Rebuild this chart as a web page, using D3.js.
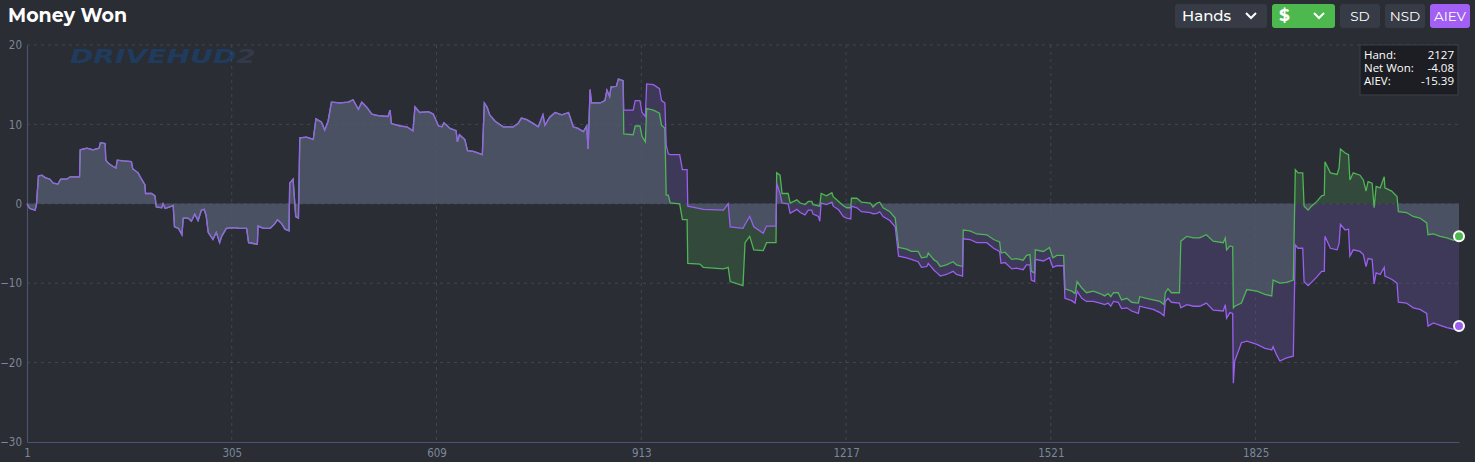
<!DOCTYPE html>
<html>
<head>
<meta charset="utf-8">
<script src="https://cdn.jsdelivr.net/npm/d3@7"></script>
<style>
  html, body { margin: 0; padding: 0; background: #2a2d33; }
  svg { display: block; }
  .tick text { font-stretch: condensed; }
</style>
</head>
<body>
<svg id="chart" width="1475" height="462"></svg>
<script>
const hands = [1,5,13,15,18,23,28,35,40,47,51,60,65,79,80,90,99,108,110,117,118,122,127,133,135,144,156,158,166,171,176,177,186,191,193,201,203,206,213,218,220,226,231,233,240,245,250,255,260,264,267,270,277,282,287,290,297,307,317,327,330,337,343,344,352,362,369,373,379,384,390,391,396,400,404,406,416,426,430,438,443,448,453,466,478,485,493,498,505,513,522,537,540,542,555,565,574,577,584,597,604,612,617,620,629,638,640,643,651,655,664,674,677,680,684,688,696,708,723,730,735,743,753,760,767,770,777,785,795,805,812,819,827,832,834,837,839,852,859,862,866,868,876,879,886,
  887,901,904,911,914,919,921,931,940,943,948,950,953,956,970,974,981,982,1000,1005,1035,1042,1045,1064,1067,1074,1080,1094,1099,1113,1114,1119,1122,1131,1134,1144,1149,1156,1161,1166,1168,1176,1178,1180,1188,1196,1198,1206,1213,1218,1224,1225,1233,1240,1253,1257,1263,1267,1272,1282,1290,1295,1307,1314,1324,1329,1337,1339,1348,1352,1357,1366,1376,1381,1390,1391,1401,1411,1426,1436,1445,1447,1453,1463,1470,1480,1485,1490,1492,1497,1498,1510,1519,1524,1530,1540,1542,1552,1557,1560,1567,1574,1584,1594,1601,1606,1610,1614,1621,1626,1634,1641,1651,1653,1663,1673,1683,1689,1691,1695,1700,1712,1714,1723,1733,1742,1752,1762,1777,1780,1782,1787,1791,1792,1794,1804,1812,1827,1839,1849,1851,1856,1861,1871,1881,1884,1888,1895,1897,1903,1908,1916,1923,1927,1928,1936,1946,1949,1951,1958,1963,1965,1970,1980,1985,1989,1992,1998,2001,2004,2010,2016,2017,2027,2035,2037,2049,2059,2069,2079,2081,2089,2099,2109,2119,2127];

// up to hand 886 net won and AIEV are the same curve
const shared = [0,-0.6,-0.8,-0.1,3.5,3.6,3.3,3.1,2.6,2.5,3.1,3.1,3.4,3.4,6.8,7.0,6.8,7.0,7.7,7.6,5.5,5.1,4.8,4.5,5.5,5.4,5.3,4.4,3.9,3.1,2.4,1.3,1.3,1.0,-0.4,-0.5,0,-0.6,-0.4,-0.2,-2.9,-3.1,-3.9,-1.8,-1.8,-2.2,-1.3,-2.1,-0.8,-0.7,-1.5,-3.6,-4.5,-3.6,-4.9,-4.1,-3.1,-3.0,-3.1,-3.1,-4.9,-5.0,-5.1,-2.8,-3.1,-3.1,-2.5,-2.0,-2.5,-3.2,-3.4,2.6,3.1,-1.6,-1.8,8.3,8.4,8.1,10.7,10.3,9.3,10.4,12.8,12.7,12.8,13.1,11.9,12.8,12.2,11.3,11.1,11.0,11.8,10.1,9.8,9.7,9.2,12.2,11.5,11.6,11.3,9.8,9.7,10.2,9.5,9.2,7.8,8.7,8.1,6.7,6.6,6.3,6.2,12.7,12.2,11.2,10.4,9.7,9.7,10.1,10.8,10.6,10.1,9.7,11.2,9.9,10.9,11.5,11.2,11.5,9.7,9.5,9.1,9.8,6.9,14.4,12.7,12.7,13.0,14.3,13.5,14.7,14.8,15.7,15.5];

const netWonTail = [8.8,8.7,9.8,9.8,8.5,7.8,12.0,11.8,11.4,9.9,9.5,1.1,1.1,0.1,0,-2.0,-2.0,-7.5,-7.6,-8.0,-8.2,-8.0,-9.8,-10.3,-4.9,-4.1,-5.8,-5.9,-4.9,-4.9,3.9,3.6,1.3,1.3,0.1,0.5,0.1,-0.1,0.3,0.3,-0.1,-0.25,-0.3,1.3,1.0,1.4,0.9,0.3,-0.25,-0.5,-0.5,0.7,0.7,0.2,0.1,-0.4,0.1,0.2,-0.5,-1.0,-1.8,-5.5,-5.7,-6.0,-6.0,-6.8,-6.7,-6.2,-7.1,-7.3,-7.9,-7.7,-7.3,-7.7,-7.9,-3.3,-3.4,-3.8,-3.9,-4.5,-4.8,-6.2,-6.1,-7.0,-6.9,-7.1,-6.5,-6.4,-8.5,-8.7,-5.8,-6.0,-5.5,-6.8,-6.5,-6.5,-10.7,-11.0,-11.3,-9.8,-10.6,-11.2,-11.0,-11.3,-11.6,-11.3,-11.7,-11.2,-11.2,-12.1,-11.9,-12.4,-12.5,-11.7,-11.9,-12.1,-12.3,-12.7,-11.2,-10.7,-11.2,-11.2,-4.7,-4.1,-4.3,-4.3,-3.9,-4.7,-4.9,-4.3,-5.8,-5.3,-5.4,-13.1,-12.9,-12.5,-10.8,-11.0,-11.4,-11.6,-9.6,-9.8,-10.0,-9.9,-9.6,4.3,3.9,3.9,-0.3,-0.8,-0.3,0.3,1.0,1.1,5.3,3.9,3.7,4.5,6.9,6.4,6.2,3.0,3.9,3.6,3.0,1.6,2.8,2.6,-0.5,2.2,2.0,3.4,2.0,1.6,0.9,-1.0,-1.1,-1.6,-1.8,-2.4,-3.9,-3.8,-4.1,-4.3,-4.6,-4.08];

const aievTail = [11.8,11.8,13.0,13.0,11.5,11.0,15.1,15.0,14.5,13.0,12.7,7.4,6.3,6.2,6.2,4.3,4.3,-0.3,-0.6,-0.7,-0.8,0,-2.9,-3.1,-2.6,-1.6,-2.9,-3.7,-2.8,-2.8,2.6,1.3,0.1,0,-1.2,-0.7,-1.1,-1.4,-0.8,-0.8,-1.3,-1.6,-2.2,0.1,-0.1,0.2,-0.3,-0.75,-1.6,-1.8,-1.9,-0.3,-0.5,-1.0,-1.1,-1.25,-1.2,-1.0,-1.6,-2.1,-2.9,-6.6,-6.8,-7.0,-7.3,-8.0,-7.9,-7.5,-8.4,-8.7,-9.1,-8.9,-8.5,-8.9,-9.1,-4.4,-4.5,-4.9,-4.9,-5.6,-6.0,-7.5,-7.4,-8.2,-8.1,-8.3,-7.7,-7.7,-9.6,-9.8,-7.0,-7.2,-6.8,-8.0,-7.8,-7.8,-11.9,-12.2,-12.5,-11.0,-11.9,-12.3,-12.3,-12.5,-12.7,-12.5,-12.9,-12.3,-12.4,-13.2,-13.1,-13.5,-13.8,-12.9,-13.1,-13.3,-13.7,-14.1,-12.3,-11.9,-12.4,-12.5,-13.1,-12.7,-12.9,-12.9,-12.5,-13.4,-13.5,-12.7,-14.4,-13.7,-13.8,-22.6,-19.8,-17.5,-17.3,-17.7,-18.2,-18.4,-18.0,-19.0,-19.8,-19.4,-19.2,-5.2,-5.6,-5.6,-9.8,-10.3,-9.9,-9.2,-8.5,-8.5,-4.1,-5.6,-5.8,-5.0,-2.6,-3.3,-3.2,-6.6,-5.8,-6.0,-6.4,-7.9,-6.9,-7.0,-10.1,-8.7,-8.9,-8.0,-9.1,-9.5,-10.0,-12.4,-12.5,-13.1,-13.3,-13.8,-15.4,-15.0,-15.3,-15.6,-15.8,-15.39];

const netWon = shared.concat(netWonTail);
const aiev = shared.concat(aievTail);

const xTicks = [1, 305, 609, 913, 1217, 1521, 1825];
const yTicks = [20, 10, 0, -10, -20, -30];
const tooltipLabels = ["Hand:", "Net Won:", "AIEV:"];
const tooltipValues = ["2127", "-4.08", "-15.39"];
const buttons = ["Hands", "$", "SD", "NSD", "AIEV"];

const data = hands.map((h, i) => ({ hand: h, net: netWon[i], ev: aiev[i] }));

const svg = d3.select("#chart");
const W = 1475, H = 462;
const margin = { top: 45, right: 16, bottom: 20, left: 27 };

const x = d3.scaleLinear().domain([1, 2127]).range([margin.left, W - margin.right]);
const y = d3.scaleLinear().domain([-30, 20]).range([H - margin.bottom, margin.top]);

svg.append("rect").attr("width", W).attr("height", H).attr("fill", "#2a2d33");

// title
svg.append("text").attr("x", 8).attr("y", 22)
  .attr("font-family", "Montserrat, 'Open Sans', sans-serif").attr("font-weight", 700)
  .attr("font-size", 19).attr("fill", "#ffffff").text("Money Won");

// watermark
const wm = svg.append("text").attr("x", 70).attr("y", 63)
  .attr("font-family", "'DejaVu Sans', sans-serif").attr("font-weight", 700)
  .attr("font-style", "italic").attr("font-size", 19)
  .attr("textLength", 186).attr("lengthAdjust", "spacingAndGlyphs");
wm.append("tspan").attr("fill", "#1f3b5e").text("DRIVEHUD");
wm.append("tspan").attr("fill", "#323a4a").text("2");

// areas: green/purple where only one series reaches, grey where both overlap
const overlap = d => (d.net * d.ev > 0) ? (Math.abs(d.net) < Math.abs(d.ev) ? d.net : d.ev) : 0;
const area = f => d3.area().x(d => x(d.hand)).y0(y(0)).y1(d => y(f(d)));

svg.append("path").datum(data).attr("d", area(d => d.net)).attr("fill", "#33493b");
svg.append("path").datum(data).attr("d", area(d => d.ev)).attr("fill", "#3e3959");
svg.append("path").datum(data).attr("d", area(overlap)).attr("fill", "#4a5162");

// grid
const grid = svg.append("g").attr("stroke", "#555b66").attr("stroke-opacity", 0.55)
  .attr("stroke-dasharray", "3,4").attr("stroke-width", 1);
grid.selectAll(".gx").data(xTicks.slice(1)).join("line")
  .attr("x1", d => x(d)).attr("x2", d => x(d)).attr("y1", y(20)).attr("y2", y(-30));
grid.selectAll(".gy").data(yTicks.slice(0, -1)).join("line")
  .attr("x1", x(1)).attr("x2", x(2127)).attr("y1", d => y(d)).attr("y2", d => y(d));

// axes
const axisFont = "'DejaVu Sans', sans-serif";
const yAxis = svg.append("g").attr("transform", `translate(${x(1)},0)`)
  .call(d3.axisLeft(y).tickValues(yTicks).tickFormat(d3.format("d")).tickSize(0).tickPadding(5));
const xAxis = svg.append("g").attr("transform", `translate(0,${y(-30)})`)
  .call(d3.axisBottom(x).tickValues(xTicks).tickFormat(d3.format("d")).tickSize(0).tickPadding(7));
[xAxis, yAxis].forEach(a => {
  a.select(".domain").attr("stroke", "#4c5271").attr("stroke-width", 1.2);
  a.selectAll("text").attr("fill", "#7c879a").attr("font-size", 11.5).attr("font-family", axisFont);
});

// lines
const line = f => d3.line().x(d => x(d.hand)).y(d => y(f(d)));
svg.append("path").datum(data).attr("d", line(d => d.net))
  .attr("fill", "none").attr("stroke", "#4fb556").attr("stroke-width", 1.3);
svg.append("path").datum(data).attr("d", line(d => d.ev))
  .attr("fill", "none").attr("stroke", "#9a5ff0").attr("stroke-width", 1.3);

// end markers
const last = data[data.length - 1];
[[last.net, "#4cb84e"], [last.ev, "#9a5ff0"]].forEach(([v, c]) => {
  svg.append("circle").attr("cx", x(last.hand)).attr("cy", y(v)).attr("r", 5)
    .attr("fill", c).attr("stroke", "#ffffff").attr("stroke-width", 2);
});

// tooltip
const tip = svg.append("g").attr("transform", "translate(1360,45)");
tip.append("rect").attr("width", 98).attr("height", 50).attr("fill", "#1c1e23")
  .attr("stroke", "#3b3f47").attr("stroke-width", 1);
tooltipLabels.forEach((t, i) => {
  tip.append("text").attr("x", 4).attr("y", 14 + i * 13).attr("font-size", 11.5)
    .attr("font-family", "'Open Sans', sans-serif").attr("fill", "#ffffff").text(t);
  tip.append("text").attr("x", 94).attr("y", 14 + i * 13).attr("font-size", 11.5)
    .attr("text-anchor", "end").attr("font-family", "'Open Sans', sans-serif")
    .attr("fill", "#ffffff").text(tooltipValues[i]);
});

// header buttons
const btnSpec = [
  { x: 1175, w: 92, fill: "#363b45", chevron: true },
  { x: 1272, w: 63, fill: "#4cb84e", chevron: true },
  { x: 1340, w: 40, fill: "#363b45" },
  { x: 1385, w: 40, fill: "#363b45" },
  { x: 1430, w: 40, fill: "#a15ff4" }
];
buttons.forEach((label, i) => {
  const b = btnSpec[i];
  const g = svg.append("g").attr("transform", `translate(${b.x},4)`);
  g.append("rect").attr("width", b.w).attr("height", 24).attr("rx", 3).attr("fill", b.fill);
  const t = g.append("text").attr("y", 17).attr("fill", "#ffffff")
    .attr("font-family", "Montserrat, 'Open Sans', sans-serif").text(label);
  if (b.chevron) {
    t.attr("x", 7).attr("font-size", i === 0 ? 15 : 17).attr("font-weight", i === 0 ? 500 : 700);
    g.append("path").attr("d", `M${b.w - 21},9 l5,5 l5,-5`).attr("fill", "none")
      .attr("stroke", "#ffffff").attr("stroke-width", 2);
  } else {
    t.attr("x", b.w / 2).attr("text-anchor", "middle").attr("font-size", 13.5);
  }
});
</script>
</body>
</html>
